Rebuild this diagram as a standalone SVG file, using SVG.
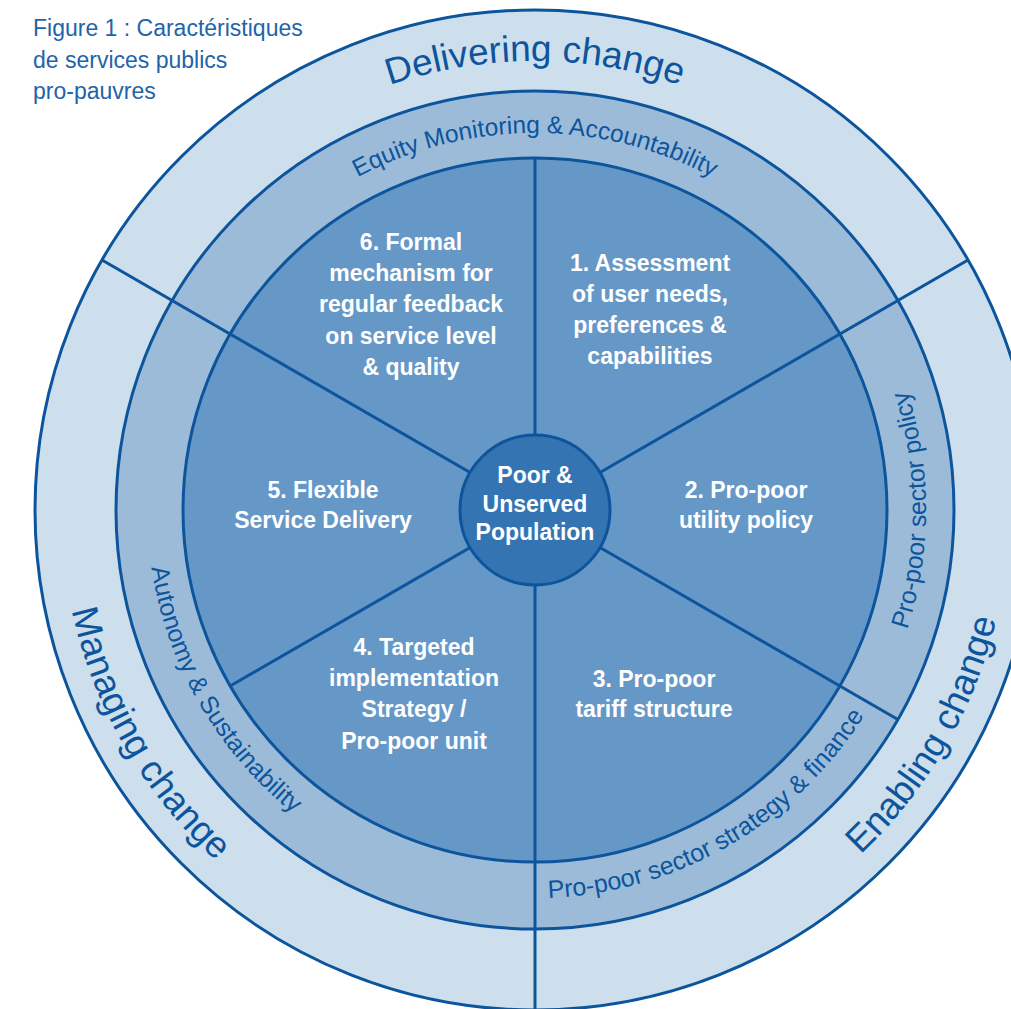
<svg xmlns="http://www.w3.org/2000/svg" width="1011" height="1009" viewBox="0 0 1011 1009">
<style>
.ln{stroke:#0c559d;stroke-width:3;fill:none}
.ring{stroke:#0c559d;stroke-width:3}
.title{font-family:"Liberation Sans",Arial,sans-serif;font-size:23px;fill:#2264a9}
.outer{font-family:"Liberation Sans",Arial,sans-serif;font-size:37px;fill:#0c559d}
.mid{font-family:"Liberation Sans",Arial,sans-serif;font-size:25px;fill:#0c559d}
.pie{font-family:"Liberation Sans",Arial,sans-serif;font-size:23px;font-weight:bold;fill:#ffffff;text-anchor:middle}
</style>
<defs>
<path id="pDeliver" d="M86,510 A449,449 0 0 1 984,510"/>
<path id="pEquity" d="M158,510 A377,377 0 0 1 912,510"/>
<path id="pPolicy" d="M535,901 A391,391 0 0 0 535,119"/>
<path id="pStrategy" d="M196.4,705.5 A391,391 0 0 0 873.6,314.5"/>
<path id="pAutonomy" d="M339.5,171.4 A391,391 0 0 0 730.5,848.6"/>
<path id="pManaging" d="M298,99.5 A474,474 0 0 0 772,920.5"/>
<path id="pEnabling" d="M298,920.5 A474,474 0 0 0 772,99.5"/>
</defs>

<g id="background">
<circle class="ring" cx="535" cy="510" r="500" fill="#cddeec"/>
<circle class="ring" cx="535" cy="510" r="419" fill="#9bbbd8"/>
<circle class="ring" cx="535" cy="510" r="352" fill="#6698c7"/>
</g>

<g id="connectors">
<line class="ln" x1="535" y1="510" x2="535" y2="158"/>
<line class="ln" x1="535" y1="510" x2="535" y2="1012"/>
<line class="ln" x1="535" y1="510" x2="968" y2="260"/>
<line class="ln" x1="535" y1="510" x2="102" y2="260"/>
<line class="ln" x1="535" y1="510" x2="897.9" y2="719.5"/>
<line class="ln" x1="535" y1="510" x2="230.2" y2="686"/>
</g>

<g id="title">
<text class="title" x="33" y="35.5">Figure 1 : Caractéristiques</text>
<text class="title" x="33" y="67.5">de services publics</text>
<text class="title" x="33" y="99">pro-pauvres</text>
</g>

<g id="delivering-change"><text class="outer"><textPath href="#pDeliver" startOffset="50%" text-anchor="middle">Delivering change</textPath></text></g>
<g id="enabling-change"><text class="outer"><textPath href="#pEnabling" startOffset="50%" text-anchor="middle">Enabling change</textPath></text></g>
<g id="managing-change"><text class="outer"><textPath href="#pManaging" startOffset="50%" text-anchor="middle">Managing change</textPath></text></g>

<g id="equity-monitoring"><text class="mid" style="font-size:24.5px"><textPath href="#pEquity" startOffset="50%" text-anchor="middle">Equity Monitoring &amp; Accountability</textPath></text></g>
<g id="sector-policy"><text class="mid"><textPath href="#pPolicy" startOffset="50%" text-anchor="middle">Pro-poor sector policy</textPath></text></g>
<g id="sector-strategy"><text class="mid"><textPath href="#pStrategy" startOffset="50%" text-anchor="middle">Pro-poor sector strategy &amp; finance</textPath></text></g>
<g id="autonomy"><text class="mid"><textPath href="#pAutonomy" startOffset="50%" text-anchor="middle">Autonomy &amp; Sustainability</textPath></text></g>

<g id="seg1">
<text class="pie" x="650" y="271">1. Assessment</text>
<text class="pie" x="650" y="302">of user needs,</text>
<text class="pie" x="650" y="333">preferences &amp;</text>
<text class="pie" x="650" y="364">capabilities</text>
</g>
<g id="seg2">
<text class="pie" x="746" y="498">2. Pro-poor</text>
<text class="pie" x="746" y="528">utility policy</text>
</g>
<g id="seg3">
<text class="pie" x="654" y="687">3. Pro-poor</text>
<text class="pie" x="654" y="717">tariff structure</text>
</g>
<g id="seg4">
<text class="pie" x="414" y="655">4. Targeted</text>
<text class="pie" x="414" y="686">implementation</text>
<text class="pie" x="414" y="717">Strategy /</text>
<text class="pie" x="414" y="749">Pro-poor unit</text>
</g>
<g id="seg5">
<text class="pie" x="323" y="498">5. Flexible</text>
<text class="pie" x="323" y="528">Service Delivery</text>
</g>
<g id="seg6">
<text class="pie" x="411" y="250">6. Formal</text>
<text class="pie" x="411" y="281">mechanism for</text>
<text class="pie" x="411" y="312">regular feedback</text>
<text class="pie" x="411" y="344">on service level</text>
<text class="pie" x="411" y="375">&amp; quality</text>
</g>

<g id="center">
<circle class="ring" cx="535" cy="510" r="75" fill="#3574b3"/>
<text class="pie" x="535" y="483">Poor &amp;</text>
<text class="pie" x="535" y="512">Unserved</text>
<text class="pie" x="535" y="540">Population</text>
</g>
</svg>
